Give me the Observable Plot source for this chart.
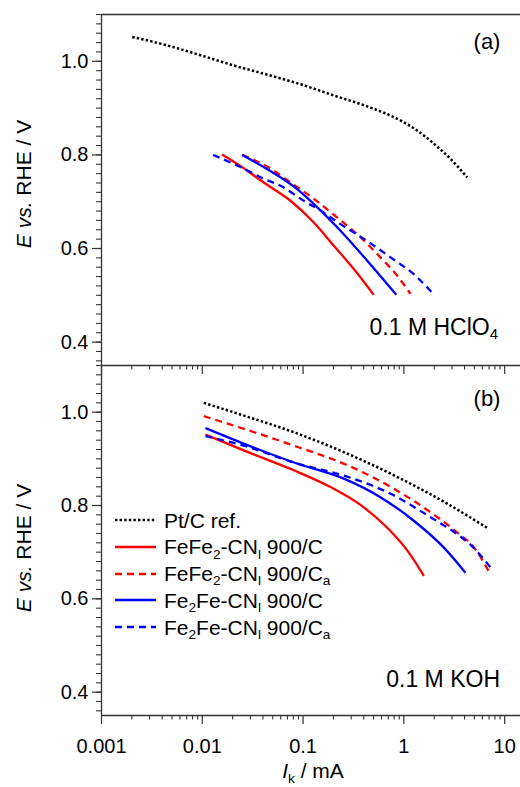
<!DOCTYPE html>
<html>
<head>
<meta charset="utf-8">
<script src="https://cdn.jsdelivr.net/npm/d3@7"></script>
<script src="https://cdn.jsdelivr.net/npm/@observablehq/plot@0.6"></script>
<style>
  body { margin: 0; background: #fff; }
  #fig { position: relative; width: 520px; height: 787px; overflow: hidden; background: #fff;
         font-family: "Liberation Sans", Arial, sans-serif; color: #000; }
  #fig svg.panel { position: absolute; left: 0; overflow: visible; background: transparent; }
  .t { position: absolute; white-space: nowrap; line-height: 1; }
  .t sub { font-size: 0.65em; vertical-align: baseline; position: relative; top: 0.32em; line-height: 0; }
  .sw { position: absolute; overflow: visible; }
</style>
</head>
<body>
<div id="fig"></div>
<script>
// ---------- data (I_k in mA, E in V vs. RHE) ----------
const xTickValues = [0.001, 0.01, 0.1, 1, 10];
const xTickLabels = ["0.001", "0.01", "0.1", "1", "10"];
const yTickValues = [0.4, 0.6, 0.8, 1.0];
const yTickLabels = ["0.4", "0.6", "0.8", "1.0"];

const seriesNames = [
  "Pt/C ref.",
  "FeFe<sub>2</sub>-CN<sub>l</sub> 900/C",
  "FeFe<sub>2</sub>-CN<sub>l</sub> 900/C<sub>a</sub>",
  "Fe<sub>2</sub>Fe-CN<sub>l</sub> 900/C",
  "Fe<sub>2</sub>Fe-CN<sub>l</sub> 900/C<sub>a</sub>"
];

// (a) 0.1 M HClO4
const acidPtC = [[0.00202,1.052],[0.00449,1.034],[0.0096,1.013],[0.0206,0.991],[0.044,0.9715],[0.0943,0.951],[0.2018,0.927],[0.4325,0.9036],[0.925,0.8736],[1.355,0.852],[1.98,0.824],[2.9,0.7915],[4.25,0.752]];
const acidFeFe2C = [[0.01574,0.8007],[0.0249,0.7735],[0.0407,0.741],[0.075,0.702],[0.1277,0.6557],[0.2018,0.606],[0.3186,0.556],[0.502,0.501]];
const acidFeFe2Ca = [[0.0249,0.80],[0.044,0.775],[0.075,0.741],[0.128,0.706],[0.218,0.666],[0.371,0.624],[0.586,0.581],[0.857,0.542],[1.164,0.503]];
const acidFe2FeC = [[0.0249,0.80],[0.0407,0.774],[0.0597,0.752],[0.0873,0.727],[0.128,0.695],[0.235,0.638],[0.4325,0.574],[0.843,0.501]];
const acidFe2FeCa = [[0.0128,0.80],[0.0239,0.774],[0.0407,0.749],[0.0597,0.734],[0.1016,0.702],[0.149,0.681],[0.235,0.652],[0.4325,0.616],[0.736,0.581],[1.253,0.545],[1.98,0.502]];

// (b) 0.1 M KOH
const alkPtC = [[0.01035,1.020],[0.0269,0.9914],[0.0841,0.9557],[0.264,0.9128],[0.826,0.863],[2.59,0.806],[6.7,0.752]];
const alkFeFe2C = [[0.01076,0.952],[0.0269,0.9164],[0.0841,0.874],[0.18,0.8414],[0.385,0.7986],[0.708,0.749],[1.12,0.699],[1.58,0.649]];
const alkFeFe2Ca = [[0.01035,0.9914],[0.0269,0.963],[0.0841,0.927],[0.264,0.888],[0.826,0.834],[1.77,0.788],[3.25,0.745],[5.13,0.706],[7.23,0.652]];
const alkFe2FeC = [[0.01076,0.966],[0.0269,0.931],[0.0841,0.891],[0.264,0.856],[0.563,0.82],[1.21,0.77],[2.59,0.706],[4.08,0.656]];
const alkFe2FeCa = [[0.01076,0.9486],[0.0269,0.927],[0.0841,0.891],[0.264,0.863],[0.826,0.82],[1.77,0.777],[3.25,0.741],[4.73,0.713],[7.5,0.663]];

// ---------- styles & layout ----------
const xDomain = [0.001, 14.35];
const yDomain = [0.35, 1.1];
const axisColor = "#333";
const styles = [
  {stroke: "#000", strokeWidth: 2.5, dash: "2.4,2.2"},
  {stroke: "#f00", strokeWidth: 2.3, dash: null},
  {stroke: "#f00", strokeWidth: 2.3, dash: "7,5"},
  {stroke: "#00f", strokeWidth: 2.3, dash: null},
  {stroke: "#00f", strokeWidth: 2.3, dash: "7,5"}
];
const xMinor = [];
for (const dec of [0.001, 0.01, 0.1, 1]) for (let m = 2; m <= 9; m++) xMinor.push(+(m * dec).toPrecision(3));
const yMinor = d3.range(36, 111, 2).map(v => v / 100);

const panels = [
  {id: "a", top: 0, height: 365, mt: 14, mb: 0, series: [acidPtC, acidFeFe2C, acidFeFe2Ca, acidFe2FeC, acidFe2FeCa]},
  {id: "b", top: 365, height: 422, mt: 0, mb: 72, series: [alkPtC, alkFeFe2C, alkFeFe2Ca, alkFe2FeC, alkFe2FeCa]}
];

const fig = document.getElementById("fig");

for (const p of panels) {
  const isB = p.id === "b";
  const marks = [
    Plot.axisY(yMinor, {tickSize: 5, stroke: axisColor, strokeWidth: 1.1, fill: "none", label: null}),
    Plot.axisY(yTickValues, {tickSize: 9, tickPadding: 4, stroke: axisColor, strokeWidth: 1.2, fill: "#000", fontSize: 20,
      tickFormat: d => yTickLabels[yTickValues.indexOf(d)], label: null}),
    Plot.axisX(xMinor, {anchor: "bottom", tickSize: 4.5, stroke: axisColor, strokeWidth: 1.1, fill: "none", label: null}),
    Plot.axisX(xTickValues, {anchor: "bottom", tickSize: 9, tickPadding: 14, stroke: axisColor, strokeWidth: 1.2,
      fill: isB ? "#000" : "none", fontSize: 20,
      tickFormat: d => xTickLabels[xTickValues.indexOf(d)], label: null}),
    Plot.ruleX([xDomain[0]], {stroke: axisColor, strokeWidth: 1.3}),
    Plot.ruleY([yDomain[0]], {stroke: axisColor, strokeWidth: 1.3})
  ];
  if (!isB) marks.push(Plot.ruleY([yDomain[1]], {stroke: axisColor, strokeWidth: 1.3}));
  p.series.forEach((data, i) => {
    const st = styles[i];
    const opts = {x: d => d[0], y: d => d[1], curve: "monotone-x", stroke: st.stroke,
                  strokeWidth: st.strokeWidth, strokeLinecap: "butt"};
    if (st.dash) opts.strokeDasharray = st.dash;
    marks.push(Plot.line(data, opts));
  });
  const svg = Plot.plot({
    width: 520, height: p.height,
    marginLeft: 101, marginRight: 0, marginTop: p.mt, marginBottom: p.mb,
    x: {type: "log", domain: xDomain},
    y: {domain: yDomain},
    style: {background: "transparent", overflow: "visible", fontFamily: "'Liberation Sans', Arial, sans-serif"},
    marks
  });
  svg.classList.add("panel");
  svg.style.top = p.top + "px";
  fig.appendChild(svg);
}

// ---------- text overlays ----------
function addText(html, opts) {
  const d = document.createElement("div");
  d.className = "t";
  d.innerHTML = html;
  Object.assign(d.style, opts);
  fig.appendChild(d);
  return d;
}
const base = (baseline, size) => (baseline - 0.846 * size) + "px";

// y-axis titles
for (const cy of [184, 548]) {
  addText("<i>E</i> <i>vs.</i> RHE / V", {left: "22.5px", top: cy + "px", fontSize: "21px",
    transform: "translate(-50%,-50%) rotate(-90deg)"});
}
// x-axis title
addText("<i>I</i><sub>k</sub> / mA", {left: "313px", top: base(778, 21), fontSize: "21px", transform: "translateX(-50%)"});
// panel labels
addText("(a)", {left: "487px", top: base(50, 22), fontSize: "22px", transform: "translateX(-50%)"});
addText("(b)", {left: "487px", top: base(407, 22), fontSize: "22px", transform: "translateX(-50%)"});
addText("0.1 M HClO<sub>4</sub>", {right: "22px", top: base(335, 23), fontSize: "23px"});
addText("0.1 M KOH", {right: "20px", top: base(687, 23), fontSize: "23px"});

// legend
const legendY0 = 520, legendDy = 26.75;
seriesNames.forEach((name, i) => {
  const y = legendY0 + i * legendDy;
  const sw = d3.select(fig).append("svg").attr("class", "sw")
    .attr("width", 44).attr("height", 8)
    .style("left", "114px").style("top", (y - 4) + "px");
  const st = styles[i];
  sw.append("line").attr("x1", 1).attr("x2", 42).attr("y1", 4).attr("y2", 4)
    .attr("stroke", st.stroke).attr("stroke-width", st.strokeWidth)
    .attr("stroke-dasharray", st.dash);
  addText(name, {left: "164px", top: base(y + 7.4, 21), fontSize: "21px"});
});
</script>
</body>
</html>
